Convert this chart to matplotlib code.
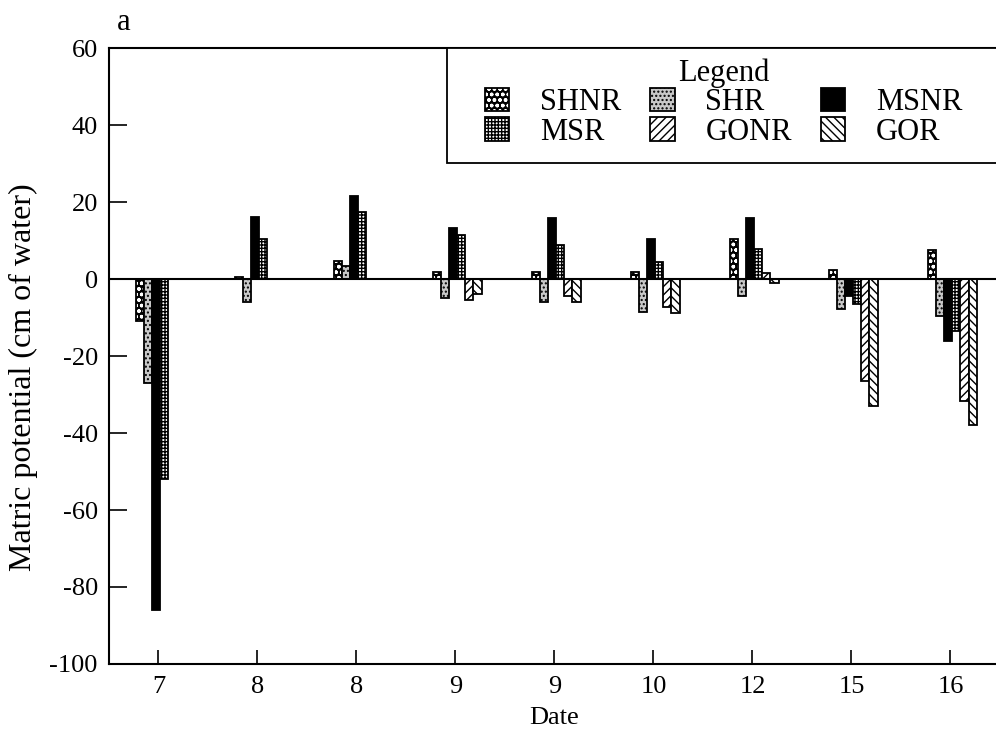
import numpy as np
import matplotlib.pyplot as plt
from matplotlib.patches import Patch, Rectangle

plt.rcParams['font.family'] = ['Liberation Serif', 'DejaVu Serif']
plt.rcParams['axes.unicode_minus'] = False
plt.rcParams['hatch.linewidth'] = 1.0

dates = ['7', '8', '8', '9', '9', '10', '12', '15', '16']
series = ['SHNR', 'SHR', 'MSNR', 'MSR', 'GONR', 'GOR']

shnr = [-11, 0.5, 4.7, 1.8, 1.8, 1.8, 10.4, 2.3, 7.5]
shr = [-27, -6, 3.4, -5, -6, -8.6, -4.4, -7.8, -9.6]
msnr = [-86, 16, 21.6, 13.3, 15.9, 10.4, 15.9, -4.4, -16]
msr = [-52, 10.5, 17.4, 11.5, 8.9, 4.4, 7.8, -6.5, -13.5]
gonr = [0, 0, 0, -5.5, -4.5, -7.3, 1.5, -26.5, -31.7]
gor = [0, 0, 0, -4, -6, -8.9, -1, -33, -38]

values = [shnr, shr, msnr, msr, gonr, gor]
faces = ['black', '#c8c8c8', 'black', 'white', 'white', 'white']
hatch_cols = ['white', 'black', 'black', 'black', 'black', 'black']
hatches = ['ooo', '....', None, '+++++', '////', '\\\\\\\\']

fig = plt.figure(figsize=(9.96, 7.39), dpi=100)
ax = fig.add_axes([0.1094, 0.1015, 0.8946, 0.8335])

x = np.arange(len(dates))
w = 0.081
handles = []
for i, (name, vals) in enumerate(zip(series, values)):
    pos = x + 0.02 + (i - 2.5) * w
    # fill + hatch first, then a black outline on top
    ax.bar(pos, vals, width=w, color=faces[i], hatch=hatches[i],
           edgecolor=hatch_cols[i], linewidth=0)
    ax.bar(pos, vals, width=w, fill=False, edgecolor='black', linewidth=1.3)
    handles.append((Patch(facecolor=faces[i], hatch=hatches[i],
                          edgecolor=hatch_cols[i], linewidth=0),
                    Patch(fill=False, edgecolor='black', linewidth=1.3)))

ax.axhline(0, color='black', linewidth=1.5)
ax.set_xlim(-0.5, 8.5)
ax.set_ylim(-100, 60)
ax.set_xticks(x)
ax.set_xticklabels(dates)
ax.set_yticks(np.arange(-100, 61, 20))
ax.tick_params(axis='y', direction='in', length=13, width=1.2, labelsize=19, pad=8)
ax.tick_params(axis='x', direction='in', length=10, width=1.2, labelsize=19, pad=9)
ax.spines['right'].set_visible(False)
for s in ['left', 'bottom', 'top']:
    ax.spines[s].set_linewidth(1.5)

ax.set_xlabel('Date', fontsize=19, labelpad=6)
ax.set_ylabel('Matric potential (cm of water)', fontsize=23)
ax.yaxis.set_label_coords(-0.08, 0.465)

# legend box runs off the right edge, as in the scan
box = Rectangle((0.379, 0.813), 0.7, 0.187, transform=ax.transAxes,
                facecolor='white', edgecolor='black', linewidth=1.3,
                clip_on=False, zorder=4)
ax.add_patch(box)

order = [0, 3, 1, 4, 2, 5]
leg = ax.legend([handles[k] for k in order], [series[k] for k in order],
                ncol=3, title='Legend', loc='upper left',
                bbox_to_anchor=(0.422, 0.983), fontsize=22, title_fontsize=22,
                frameon=False, borderpad=0, labelspacing=0.0,
                columnspacing=0.95, handlelength=0.8, handleheight=0.8,
                handletextpad=1.0, borderaxespad=0)
leg.set_zorder(5)

fig.text(0.117, 0.96, 'a', fontsize=22)

fig.savefig('out.png', dpi=100)
